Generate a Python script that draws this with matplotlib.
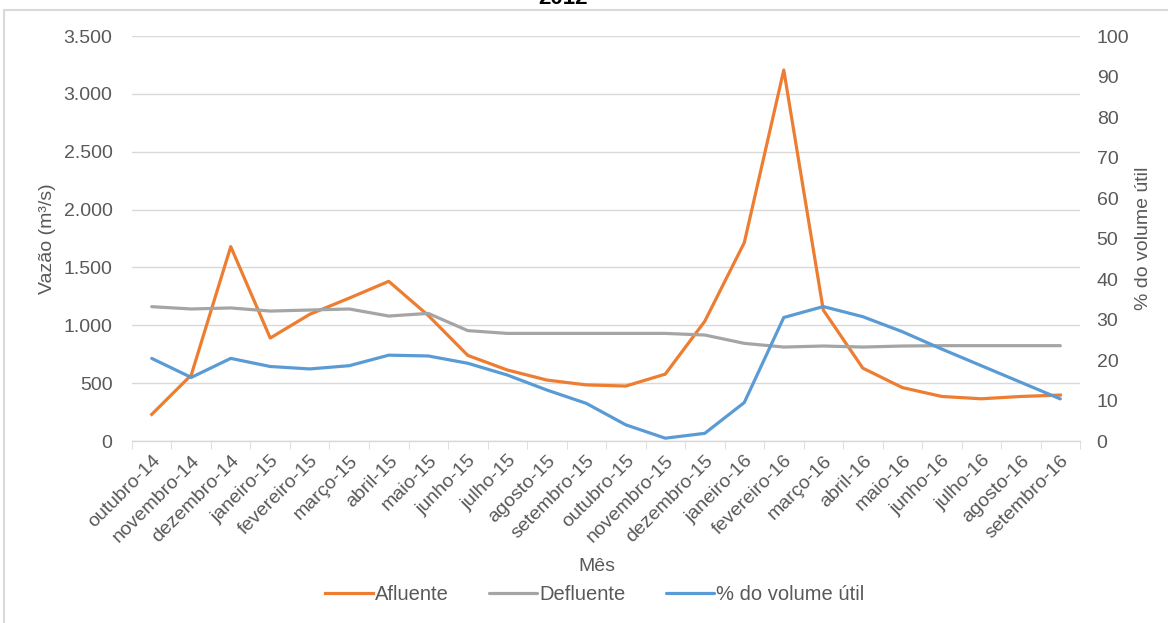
import matplotlib.pyplot as plt
from matplotlib.patches import Rectangle
from matplotlib.ticker import FuncFormatter, FixedLocator

plt.rcParams['font.family'] = ['Liberation Sans', 'DejaVu Sans']

meses = ["outubro-14", "novembro-14", "dezembro-14", "janeiro-15", "fevereiro-15",
         "março-15", "abril-15", "maio-15", "junho-15", "julho-15", "agosto-15",
         "setembro-15", "outubro-15", "novembro-15", "dezembro-15", "janeiro-16",
         "fevereiro-16", "março-16", "abril-16", "maio-16", "junho-16", "julho-16",
         "agosto-16", "setembro-16"]

afluente = [230, 570, 1680, 890, 1095, 1235, 1380, 1085, 740, 614, 527, 485,
            475, 578, 1035, 1714, 3206, 1132, 630, 462, 385, 365, 385, 397]

defluente = [1161, 1141, 1150, 1123, 1132, 1141, 1080, 1103, 954, 930, 930, 930,
             930, 930, 916, 844, 812, 821, 812, 821, 824, 824, 824, 824]

volume_util = [20.4, 15.7, 20.4, 18.4, 17.8, 18.6, 21.2, 21.0, 19.2, 16.3, 12.6, 9.3,
               4.0, 0.7, 1.9, 9.5, 30.5, 33.2, 30.7, 27.0, 22.7, 18.6, 14.5, 10.4]

laranja = "#ED7D31"
cinza = "#A5A5A5"
azul = "#5B9BD5"
texto = "#595959"

fig = plt.figure(figsize=(11.68, 6.23), dpi=100)
ax = fig.add_axes([0.113, 0.2921, 0.8117, 0.6501])

# moldura da área do gráfico e título cortado no topo
fig.patches.append(Rectangle((4 / 1168, -0.05), 1.2, 1 - 10 / 623 + 0.05,
                             transform=fig.transFigure, fill=False,
                             edgecolor="#D9D9D9", linewidth=1.5))
fig.text(563 / 1168, 1 - 4 / 623, "2012", ha="center", va="baseline", fontsize=16,
         fontweight="bold", color="black")

x = list(range(len(meses)))
ax.plot(x, afluente, color=laranja, lw=2.3, label="Afluente", solid_joinstyle="round")
ax.plot(x, defluente, color=cinza, lw=2.3, label="Defluente", solid_capstyle="round")

ax2 = ax.twinx()
ax2.plot(x, volume_util, color=azul, lw=2.3, label="% do volume útil",
         solid_capstyle="round")

ax.set_xlim(-0.5, len(meses) - 0.5)
ax.set_ylim(0, 3500)
ax2.set_ylim(0, 100)
ax.set_yticks(range(0, 3501, 500))
ax2.set_yticks(range(0, 101, 10))
ax.yaxis.set_major_formatter(FuncFormatter(lambda v, p: f"{int(v):,}".replace(",", ".")))

ax.grid(axis="y", color="#D9D9D9", lw=1)
ax.set_axisbelow(True)
for a in (ax, ax2):
    for s in ("top", "left", "right"):
        a.spines[s].set_visible(False)
ax2.spines["bottom"].set_visible(False)
ax.spines["bottom"].set_color("#D9D9D9")
ax.spines["bottom"].set_linewidth(1)

ax.set_xticks(x)
ax.set_xticklabels(meses, rotation=45, ha="right", rotation_mode="anchor")
ax.xaxis.set_minor_locator(FixedLocator([i - 0.5 for i in range(len(meses) + 1)]))
ax.tick_params(axis="x", which="major", length=0, pad=8, labelsize=14, labelcolor=texto)
ax.tick_params(axis="x", which="minor", length=6, color="#D9D9D9")
ax.tick_params(axis="y", length=0, pad=14, labelsize=14, labelcolor=texto)
ax2.tick_params(axis="y", length=0, pad=12, labelsize=14, labelcolor=texto)

ax.set_ylabel("Vazão (m³/s)", fontsize=14, color=texto)
ax.yaxis.set_label_coords(-0.080, 0.5)
ax2.set_ylabel("% do volume útil", fontsize=14, color=texto)
ax2.yaxis.set_label_coords(1.058, 0.5)
ax.set_xlabel("Mês", fontsize=14, color=texto)
ax.xaxis.set_label_coords(0.4905, -0.289)

h1, l1 = ax.get_legend_handles_labels()
h2, l2 = ax2.get_legend_handles_labels()
fig.legend(h1 + h2, l1 + l2, loc="center", bbox_to_anchor=(0.509, 0.046), ncol=3,
           frameon=False, fontsize=14.5, labelcolor=texto, handlelength=2.4,
           handletextpad=0.1, columnspacing=2.0)

fig.savefig("out.png", dpi=100)
